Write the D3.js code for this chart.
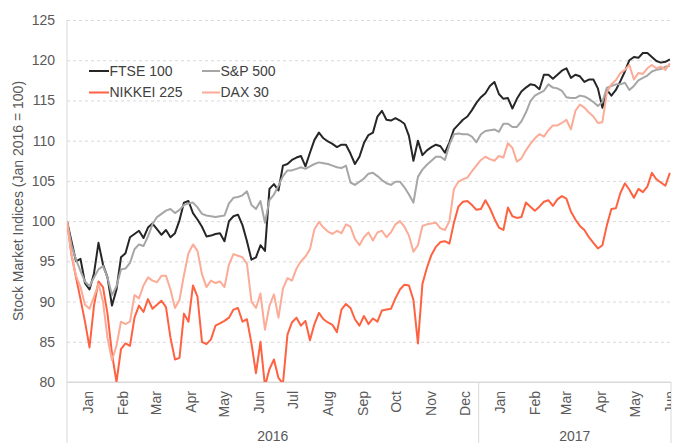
<!DOCTYPE html>
<html>
<head>
<meta charset="utf-8">
<script src="https://cdn.jsdelivr.net/npm/d3@7"></script>
<style>
  body { margin: 0; background: #fff; }
  svg { display: block; font-family: 'Liberation Sans', Arial, sans-serif; }
</style>
</head>
<body>
<main></main>
<script>
// sample dates: every 4th calendar day from 1 Jan 2016
const startDate = new Date(Date.UTC(2016, 0, 1));
const endDate = new Date(Date.UTC(2017, 5, 21));
const dates = d3.utcDay.range(startDate, endDate, 4);

const seriesNames = ['FTSE 100', 'S&P 500', 'NIKKEI 225', 'DAX 30'];

const ftse = [
  100, 97.5, 95, 95.3, 92.3, 91.5, 93.5, 97.3, 94.6, 93,
  89.5, 91.5, 95.5, 96, 98, 98.4, 98.8, 97.9, 99.2, 99.7,
  99, 98.3, 98.9, 98, 98.5, 100.1, 102.3, 102.5, 101, 100.2,
  99.3, 98.1, 98.2, 98.4, 98.5, 97.5, 100, 100.6, 100.8, 99.5,
  97.5, 95.2, 95.5, 97, 96.3, 104, 104.6, 103.8, 106.9, 107.1,
  107.6, 107.9, 108.1, 106.8, 108.5, 110.1, 111, 110.3, 109.9, 109.6,
  109.2, 109.5, 109.5, 108.4, 107.1, 108, 109.7, 110.7, 111, 113,
  113.7, 112.6, 112.5, 112.8, 112.5, 112.1, 110.6, 107.5, 110, 108.2,
  108.8, 109.2, 109.5, 109.3, 108.5, 109.8, 111.4, 112, 112.6, 113,
  113.8, 114.7, 115.4, 115.9, 116.8, 117.3, 115.8, 115.2, 115.3, 114,
  115.2, 116.1, 116.6, 117, 116.9, 116.4, 118.2, 118.2, 117.7, 118.2,
  118.7, 119, 117.8, 118.2, 118, 117.3, 117.6, 117.6, 116.5, 114.1,
  116.3, 115.6, 116.3, 117.4, 118.6, 120, 120.4, 120.3, 120.9, 120.9,
  120.4, 119.9, 119.7, 119.8, 120.1
];

const sp500 = [
  100, 97, 95.2, 93.8, 92.5, 91.9, 93, 94, 94.4, 93,
  90.8, 91.9, 94, 94.1, 94.8, 96.5, 97.1, 96.9, 98.1, 99.6,
  100.5, 100.9, 101.3, 101.5, 101, 101.4, 102, 102.2, 102.3, 101.7,
  100.9, 100.7, 100.6, 100.5, 100.6, 100.7, 102.2, 102.9, 103, 103.2,
  103.7, 102, 101.5, 102.5, 99.8, 102.6, 103.3, 104.4, 105.6, 106.3,
  106.3, 106.5, 106.7, 106.5, 106.8, 107.1, 107.3, 107.2, 107.1, 106.9,
  106.7, 106.6, 106.9, 104.8, 104.5, 104.9, 105.3, 105.9, 106, 105.6,
  105.1, 104.7, 104.5, 104.9, 104.9, 104.2, 103.3, 102.3, 105.5, 106.4,
  107, 107.5, 108, 108, 107.6, 109.5, 110.8, 110.9, 110.8, 110.8,
  110.5, 109.8, 110.8, 111.2, 111.3, 111.4, 111.1, 112.1, 112.1, 111.7,
  111.7, 112.4, 113.5, 114.9, 115.6, 115.9, 116.2, 117, 116.6, 116.5,
  116.2, 115.4, 115.3, 115.3, 115.6, 115.5, 115.2, 114.8, 114.3, 114.8,
  116.6, 116.8, 117, 117, 117.2, 116.3, 116.8, 117.5, 117.8, 118.1,
  118.6, 118.8, 118.9, 119.2, 119.3
];

const nikkei = [
  100, 95.8, 93, 90.3, 87.5, 84.3, 89.5, 92.5, 91.8, 88.5,
  83.5, 80, 84.1, 84.8, 84.5, 88, 89.5, 88.7, 90.3, 89.1,
  89.6, 90.1, 89.3, 85.5, 82.8, 83, 88.5, 87.5, 92, 90.6,
  85, 84.7, 85.3, 87, 87.3, 87.6, 88, 89, 89.2, 87.5,
  87.8, 84.8, 81.1, 85, 79.5, 81.6, 82.8, 80.5, 79.8, 85.9,
  87.4, 88, 87, 87.6, 85.2, 87.2, 88.6, 87.8, 87.4, 87.1,
  86.2, 89, 89.7, 89.2, 87.8, 87, 88.2, 87.2, 87.9, 87.5,
  88.9, 89, 89.1, 90.4, 91.5, 92.1, 92, 90.2, 84.8, 92.2,
  94.2, 95.8, 96.8, 97.4, 97.5, 97.2, 99.8, 101.8, 102.4, 102.5,
  102, 101.4, 101.5, 102.6, 101.6, 100.3, 99.2, 98.9, 101.7, 100.6,
  100.4, 100.5, 102.3, 101.8, 101.3, 101.8, 102.4, 102.6, 101.9, 102.7,
  103.1, 102.8, 101.2, 100.2, 99.4, 98.9, 98, 97.3, 96.6, 97,
  99.5, 101.5, 101.6, 103.5, 104.7, 103.9, 102.9, 104, 103.6, 104.3,
  106, 105.2, 104.8, 104.4, 106
];

const dax = [
  100, 95.8, 93.2, 91.8, 89.6, 89.1, 90.6, 92.2, 90, 85.5,
  82.7, 84.5, 87.5, 87.2, 87.5, 90.8, 90.4, 92, 93, 92.6,
  92.4, 93.2, 93.2, 91.5, 89.2, 90.2, 93.3, 96, 97.1, 96.3,
  93.4, 91.8, 92.6, 92.3, 92.5, 91.8, 94.6, 95.9, 95.7, 95.5,
  94.7, 90, 89.2, 91, 86.5, 89.5, 90.9, 88, 91.6, 92.9,
  92.6, 94.1, 95, 95.6, 96.5, 99, 99.9, 99.2, 98.7, 98.4,
  98.8, 98.5, 99.6, 99.3, 97.8, 97, 98, 98.6, 97.6, 98.6,
  98.8, 98, 98.6, 99.6, 100, 99.3, 98.2, 96.2, 97, 99.4,
  99.6, 99.7, 99.8, 99.1, 98.9, 100, 104, 104.9, 105.2, 105.4,
  106.2, 106.9, 107.6, 108, 107.7, 107.5, 108.1, 107.9, 109.7, 109.1,
  107.4, 107.8, 108.8, 109.6, 110.3, 110.8, 110.5, 111.3, 111.9, 111.9,
  112.2, 112.6, 111.4, 113.7, 114.5, 114.1, 113.5, 113, 112.2, 112.3,
  116, 117, 117.5, 118.4, 118.8, 119.4, 117.6, 118.4, 118.3, 119,
  119.4, 119, 119.2, 118.8, 119.6
];

const yTicks = [80, 85, 90, 95, 100, 105, 110, 115, 120, 125];
const monthStarts = d3.utcMonth.range(new Date(Date.UTC(2016, 0, 1)), new Date(Date.UTC(2017, 5, 2)));
const years = [2016, 2017];

const colors = ['#262626', '#a6a6a6', '#fe6241', '#fcab97'];

const width = 675;
const height = 443;
const plotLeft = 67;
const plotRight = 671;
const plotTop = 20;
const plotBottom = 382;

const xScale = d3.scaleUtc()
  .domain([startDate, endDate])
  .range([plotLeft, plotRight]);

const yScale = d3.scaleLinear()
  .domain([80, 125])
  .range([plotBottom, plotTop]);

const svg = d3.select('main')
  .append('svg')
  .attr('width', width)
  .attr('height', height);

const defs = svg.append('defs');

defs.append('clipPath')
  .attr('id', 'plot-clip')
  .append('rect')
  .attr('x', plotLeft)
  .attr('y', plotTop - 5)
  .attr('width', plotRight - plotLeft)
  .attr('height', plotBottom - plotTop + 5);

defs.append('clipPath')
  .attr('id', 'axis-clip')
  .append('rect')
  .attr('x', 0)
  .attr('y', plotBottom)
  .attr('width', plotRight)
  .attr('height', height - plotBottom);

// gridlines
const yAxis = d3.axisLeft(yScale)
  .tickValues(yTicks)
  .tickSize(-(plotRight - plotLeft))
  .tickPadding(12)
  .tickFormat(d3.format('d'));

const yAxisG = svg.append('g')
  .attr('transform', `translate(${plotLeft}, 0)`)
  .call(yAxis);

yAxisG.select('.domain').remove();
yAxisG.selectAll('.tick line')
  .attr('stroke', '#d9d9d9')
  .attr('stroke-dasharray', d => d === 80 ? null : '3,3');
yAxisG.selectAll('.tick text')
  .attr('fill', '#595959')
  .style('font-size', '14px')
  .style('font-family', "'Liberation Sans', Arial, sans-serif");

// axis frame
svg.append('line')
  .attr('x1', plotLeft).attr('x2', plotLeft)
  .attr('y1', plotTop).attr('y2', height)
  .attr('stroke', '#d9d9d9');

svg.append('line')
  .attr('x1', plotLeft).attr('x2', plotRight)
  .attr('y1', plotBottom).attr('y2', plotBottom)
  .attr('stroke', '#d9d9d9');

svg.selectAll('.year-sep')
  .data([new Date(Date.UTC(2017, 0, 1)), endDate])
  .enter()
  .append('line')
  .attr('class', 'year-sep')
  .attr('x1', d => xScale(d)).attr('x2', d => xScale(d))
  .attr('y1', plotBottom).attr('y2', height)
  .attr('stroke', '#d9d9d9');

// month labels
svg.append('g')
  .attr('clip-path', 'url(#axis-clip)')
  .selectAll('text')
  .data(monthStarts)
  .enter()
  .append('text')
  .text(d => d3.utcFormat('%b')(d))
  .attr('transform', d => `translate(${xScale(d3.utcDay.offset(d, 19))}, 391) rotate(-90)`)
  .attr('dy', '0.35em')
  .attr('text-anchor', 'end')
  .attr('fill', '#595959')
  .style('font-size', '14px');

// year labels
svg.selectAll('.year-label')
  .data(years)
  .enter()
  .append('text')
  .attr('class', 'year-label')
  .text(d => d)
  .attr('x', d => {
    const a = xScale(new Date(Date.UTC(d, 0, 1)));
    const b = xScale(d3.min([new Date(Date.UTC(d + 1, 0, 1)), endDate]));
    return (a + b) / 2;
  })
  .attr('y', 441)
  .attr('text-anchor', 'middle')
  .attr('fill', '#595959')
  .style('font-size', '14px');

// y title
svg.append('text')
  .text('Stock Market Indices (Jan 2016 = 100)')
  .attr('transform', `translate(18, ${(plotTop + plotBottom) / 2}) rotate(-90)`)
  .attr('dy', '0.35em')
  .attr('text-anchor', 'middle')
  .attr('fill', '#595959')
  .style('font-size', '14px');

// lines
const series = [ftse, sp500, nikkei, dax];

const line = d3.line()
  .x((d, i) => xScale(dates[i]))
  .y(d => yScale(d));

svg.append('g')
  .attr('clip-path', 'url(#plot-clip)')
  .selectAll('path')
  .data(series)
  .enter()
  .append('path')
  .attr('d', d => line(d))
  .attr('fill', 'none')
  .attr('stroke', (d, i) => colors[i])
  .attr('stroke-width', 2)
  .attr('stroke-linejoin', 'round');

// legend
const legend = svg.append('g')
  .attr('transform', 'translate(89, 71)');

const legendItems = legend.selectAll('g')
  .data(seriesNames)
  .enter()
  .append('g')
  .attr('transform', (d, i) => `translate(${(i % 2) * 113}, ${Math.floor(i / 2) * 21.5})`);

legendItems.append('line')
  .attr('x1', 0).attr('x2', (d, i) => i % 2 ? 18 : 20)
  .attr('y1', 0).attr('y2', 0)
  .attr('stroke', (d, i) => colors[i])
  .attr('stroke-width', 2);

legendItems.append('text')
  .text(d => d)
  .attr('x', (d, i) => i % 2 ? 18.5 : 20.5)
  .attr('dy', '0.35em')
  .attr('fill', '#404040')
  .style('font-size', '14px');
</script>
</body>
</html>
